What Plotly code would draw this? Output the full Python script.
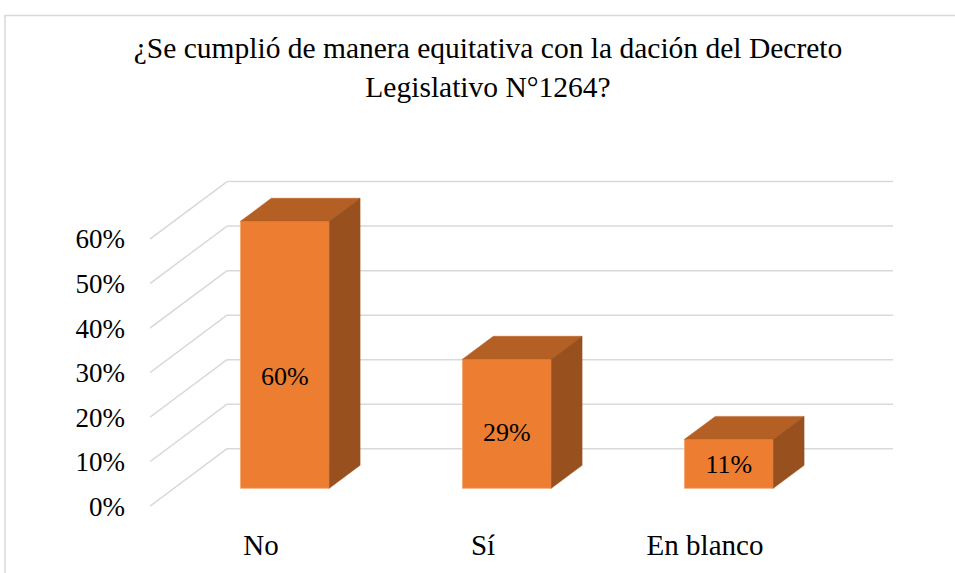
import plotly.graph_objects as go

categories = ['No', 'Sí', 'En blanco']
values = [0.60, 0.29, 0.11]
y_ticks = [0.0, 0.1, 0.2, 0.3, 0.4, 0.5, 0.6]

# fake 3D geometry (oblique projection), in axis units
DX, DY = 0.347, 0.129      # offset of the full depth of the box
Z0, Z1 = 0.31, 0.71        # front / back of the bars inside the depth
BW = 0.40                  # bar width
X_LEFT, X_RIGHT = -0.5, 2.5

FRONT = '#ED7D31'
TOP = '#B45F23'
SIDE = '#98501E'
GRID = '#D9D9D9'
FONT = 'Liberation Serif'

fig = go.Figure()

xs = [i + Z0 * DX for i in range(len(categories))]
fig.add_trace(go.Bar(
    x=xs,
    y=values,
    base=Z0 * DY,
    width=BW,
    marker=dict(color=FRONT, line=dict(color='#F4A46E', width=0.8)),
    hoverinfo='skip'
))

dz = Z1 - Z0
for x, v in zip(xs, values):
    xl, xr = x - BW / 2, x + BW / 2
    b = Z0 * DY
    t = v + b
    # top face
    fig.add_trace(go.Scatter(
        x=[xl, xr, xr + dz * DX, xl + dz * DX, xl],
        y=[t, t, t + dz * DY, t + dz * DY, t],
        fill='toself', fillcolor=TOP, mode='lines',
        line=dict(color=TOP, width=0.5), hoverinfo='skip', showlegend=False
    ))
    # right side face
    fig.add_trace(go.Scatter(
        x=[xr, xr, xr + dz * DX, xr + dz * DX, xr],
        y=[b, t, t + dz * DY, b + dz * DY, b],
        fill='toself', fillcolor=SIDE, mode='lines',
        line=dict(color=SIDE, width=0.5), hoverinfo='skip', showlegend=False
    ))

# data labels on the front faces
fig.add_trace(go.Scatter(
    x=xs,
    y=[Z0 * DY + 0.4 * v + 0.006 for v in values],
    mode='text',
    text=[f'{v:.0%}' for v in values],
    textfont=dict(family=FONT, size=26, color='black'),
    hoverinfo='skip', showlegend=False
))

shapes = []
for v in y_ticks:
    # back wall
    shapes.append(dict(type='line', layer='below', xref='x', yref='y',
                       x0=X_LEFT + DX, x1=X_RIGHT + DX, y0=v + DY, y1=v + DY,
                       line=dict(color=GRID, width=1.5)))
    # left wall
    shapes.append(dict(type='line', layer='below', xref='x', yref='y',
                       x0=X_LEFT, x1=X_LEFT + DX, y0=v, y1=v + DY,
                       line=dict(color=GRID, width=1.5)))

# chart border (top and left edges visible)
shapes.append(dict(type='rect', xref='paper', yref='paper',
                   x0=-0.1835, x1=1.03, y0=-0.16, y1=1.3676,
                   line=dict(color=GRID, width=1.5)))

fig.update_layout(
    width=955, height=573,
    title=dict(
        text='¿Se cumplió de manera equitativa con la dación del Decreto<br>Legislativo N°1264?',
        x=0.511, xanchor='center',
        y=0.898, yanchor='top', yref='container',
        font=dict(family=FONT, size=29.5, color='black')
    ),
    xaxis=dict(
        range=[-0.5, 3.0586],
        tickvals=list(range(len(categories))),
        ticktext=categories,
        showgrid=False, zeroline=False, showline=False,
        ticklabelstandoff=9,
        tickfont=dict(family=FONT, size=29, color='black')
    ),
    yaxis=dict(
        range=[-0.0222, 0.80],
        tickvals=y_ticks,
        tickformat='.0%',
        showgrid=False, zeroline=False, showline=False,
        ticklabelstandoff=24,
        tickfont=dict(family=FONT, size=27, color='black')
    ),
    shapes=shapes,
    showlegend=False,
    plot_bgcolor='white',
    paper_bgcolor='white',
    margin=dict(l=150, r=15, t=150, b=53)
)

fig.write_html('out.html', config={'displayModeBar': False},
               post_script="document.body.style.margin = '0';")
